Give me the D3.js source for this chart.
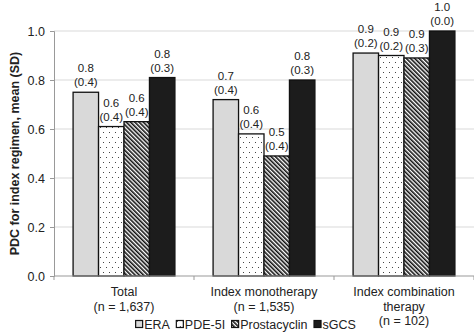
<!DOCTYPE html>
<html>
<head>
<meta charset="utf-8">
<script src="https://cdn.jsdelivr.net/npm/d3@7"></script>
<style>
  body { margin: 0; background: #fff; }
  svg { display: block; font-family: Arial, "Liberation Sans", sans-serif; }
</style>
</head>
<body>
<div id="chart"></div>
<script>
// categories (multi-line labels) and series
const categories = [["Total", "(n = 1,637)"], ["Index monotherapy", "(n = 1,535)"], ["Index combination", "therapy", "(n = 102)"]];
const seriesNames = ["ERA", "PDE-5I", "Prostacyclin", "sGCS"];

// mean PDC per series, one value per category
const eraMean = [0.75, 0.72, 0.91];
const pdeMean = [0.61, 0.58, 0.90];
const prostaMean = [0.63, 0.49, 0.89];
const sgcsMean = [0.81, 0.80, 1.0];

// SD per series
const eraSD = [0.4, 0.4, 0.2];
const pdeSD = [0.4, 0.4, 0.2];
const prostaSD = [0.4, 0.4, 0.3];
const sgcsSD = [0.3, 0.3, 0.0];

const yTicks = [0, 0.2, 0.4, 0.6, 0.8, 1.0];

const means = [eraMean, pdeMean, prostaMean, sgcsMean];
const sds = [eraSD, pdeSD, prostaSD, sgcsSD];

const W = 474, H = 335;
const margin = {top: 31, right: 0, bottom: 59, left: 54};

const svg = d3.select("#chart").append("svg")
  .attr("width", W).attr("height", H);

// patterns for PDE-5I (dots) and Prostacyclin (stripes)
const defs = svg.append("defs");
const dots = defs.append("pattern")
  .attr("id", "dots").attr("patternUnits", "userSpaceOnUse")
  .attr("width", 6).attr("height", 10);
dots.append("rect").attr("width", 6).attr("height", 10).attr("fill", "#fff");
dots.append("rect").attr("x", 1).attr("y", 2).attr("width", 1).attr("height", 1).attr("fill", "#444");
dots.append("rect").attr("x", 4).attr("y", 7).attr("width", 1).attr("height", 1).attr("fill", "#444");

const stripes = defs.append("pattern")
  .attr("id", "stripes").attr("patternUnits", "userSpaceOnUse")
  .attr("width", 3).attr("height", 3)
  .attr("patternTransform", "rotate(-45)");
stripes.append("rect").attr("width", 3).attr("height", 3).attr("fill", "#fff");
stripes.append("rect").attr("width", 1.6).attr("height", 3).attr("fill", "#111");

const fills = ["#d9d9d9", "url(#dots)", "url(#stripes)", "#1c1c1c"];

const x0 = d3.scaleBand()
  .domain(d3.range(categories.length))
  .range([margin.left, W - margin.right]);

const x1 = d3.scaleBand()
  .domain(d3.range(seriesNames.length))
  .range([0, x0.bandwidth()])
  .paddingOuter(0.75);

const y = d3.scaleLinear()
  .domain([0, 1])
  .range([H - margin.bottom, margin.top]);

// gridlines
svg.append("g").selectAll("line")
  .data(yTicks.filter(d => d > 0))
  .join("line")
    .attr("x1", margin.left).attr("x2", W - margin.right)
    .attr("y1", d => y(d)).attr("y2", d => y(d))
    .attr("stroke", "#d9d9d9").attr("stroke-width", 1);

// y axis
const yAxis = svg.append("g")
  .attr("transform", `translate(${margin.left},0)`)
  .call(d3.axisLeft(y).tickValues(yTicks).tickFormat(d3.format(".1f")).tickSize(4).tickPadding(5));
yAxis.select(".domain").attr("stroke", "#999");
yAxis.selectAll(".tick line").attr("stroke", "#999");
yAxis.selectAll("text").attr("font-size", 12.5).attr("fill", "#222").attr("font-family", null);

// bars
const groups = svg.append("g").selectAll("g")
  .data(categories)
  .join("g")
    .attr("transform", (d, i) => `translate(${x0(i)},0)`);

groups.selectAll("rect")
  .data((d, ci) => seriesNames.map((s, si) => ({si, ci, v: means[si][ci], sd: sds[si][ci]})))
  .join("rect")
    .attr("x", d => x1(d.si))
    .attr("y", d => y(d.v))
    .attr("width", x1.bandwidth())
    .attr("height", d => y(0) - y(d.v))
    .attr("fill", d => fills[d.si])
    .attr("stroke", "#111")
    .attr("stroke-width", 1.3);

// value labels
const labels = groups.selectAll("text.val")
  .data((d, ci) => seriesNames.map((s, si) => ({si, ci, v: means[si][ci], sd: sds[si][ci]})))
  .join("text")
    .attr("class", "val")
    .attr("text-anchor", "middle")
    .attr("font-size", 11.5)
    .attr("fill", "#222");
labels.append("tspan")
  .attr("x", d => x1(d.si) + x1.bandwidth() / 2)
  .attr("y", d => y(d.v) - 20)
  .text(d => d3.format(".1f")(d.v));
labels.append("tspan")
  .attr("x", d => x1(d.si) + x1.bandwidth() / 2)
  .attr("y", d => y(d.v) - 6)
  .text(d => `(${d3.format(".1f")(d.sd)})`);

// x axis
const xAxis = svg.append("g");
xAxis.append("line")
  .attr("x1", margin.left).attr("x2", W - margin.right)
  .attr("y1", y(0)).attr("y2", y(0))
  .attr("stroke", "#999");
xAxis.selectAll("line.tk")
  .data(d3.range(categories.length + 1))
  .join("line")
    .attr("class", "tk")
    .attr("x1", i => margin.left + i * x0.step()).attr("x2", i => margin.left + i * x0.step())
    .attr("y1", y(0)).attr("y2", y(0) + 4)
    .attr("stroke", "#999");

xAxis.selectAll("text")
  .data(categories)
  .join("text")
    .attr("text-anchor", "middle")
    .attr("font-size", 12.5)
    .attr("fill", "#222")
    .each(function(d, i) {
      d3.select(this).selectAll("tspan")
        .data(d)
        .join("tspan")
          .attr("x", x0(i) + x0.bandwidth() / 2)
          .attr("y", (t, j) => y(0) + 20 + j * 14.5)
          .text(t => t);
    });

// y axis title
svg.append("text")
  .attr("transform", `translate(19,${(y(0) + y(1)) / 2}) rotate(-90)`)
  .attr("text-anchor", "middle")
  .attr("font-size", 12.5)
  .attr("font-weight", "bold")
  .attr("fill", "#222")
  .text("PDC for index regimen, mean (SD)");

// legend
const legendY = H - 6;
const legend = svg.append("g");
let lx = 0;
const items = legend.selectAll("g")
  .data(seriesNames)
  .join("g");
items.each(function(d, i) {
  const g = d3.select(this);
  g.append("rect")
    .attr("x", 0.5).attr("y", -8.5).attr("width", 7).attr("height", 7)
    .attr("fill", fills[i]).attr("stroke", "#111").attr("stroke-width", 1.2);
  const t = g.append("text")
    .attr("x", 9).attr("y", 0)
    .attr("font-size", 12.5).attr("fill", "#222")
    .text(d);
  const w = t.node().getComputedTextLength();
  g.attr("transform", `translate(${lx},0)`);
  lx += 9 + w + 6;
});
const legendW = lx - 6;
legend.attr("transform", `translate(${245.5 - legendW / 2},${legendY})`);
</script>
</body>
</html>
